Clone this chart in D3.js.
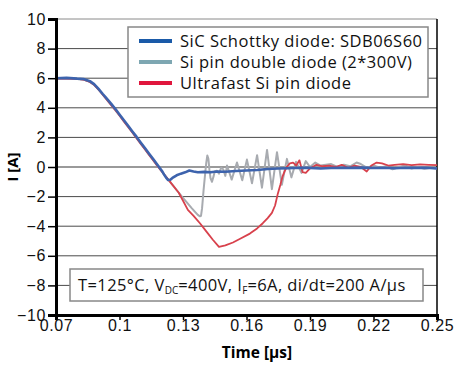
<!DOCTYPE html>
<html><head><meta charset="utf-8">
<script src="https://cdn.jsdelivr.net/npm/d3@7"></script>
<style>
body{margin:0;background:#fff;}
svg{display:block;font-family:"Open Sans",sans-serif;}
</style></head>
<body>
<svg id="c" width="454" height="365"></svg>
<script>
// ---- data ----
const xTicks = [0.07, 0.1, 0.13, 0.16, 0.19, 0.22, 0.25];
const xTickLabels = ["0.07", "0.1", "0.13", "0.16", "0.19", "0.22", "0.25"];
const yTicks = [-10, -8, -6, -4, -2, 0, 2, 4, 6, 8, 10];
const seriesNames = ["SiC Schottky diode: SDB06S60", "Si pin double diode (2*300V)", "Ultrafast Si pin diode"];

const sicT = [0.070,0.075,0.080,0.083,0.086,0.088,0.090,0.092,0.094,0.096,0.098,0.100,0.102,0.104,0.106,0.108,0.110,0.112,0.114,0.116,0.118,0.120,0.121,0.122,0.123,0.124,0.125,0.127,0.129,0.131,0.133,0.135,0.137,0.140,0.143,0.146,0.150,0.155,0.160,0.165,0.170,0.175,0.180,0.185,0.190,0.195,0.200,0.205,0.210,0.215,0.220,0.225,0.230,0.235,0.240,0.245,0.250];
const sicI = [6.0,6.02,5.97,5.95,5.8,5.6,5.3,4.95,4.62,4.28,3.93,3.55,3.18,2.8,2.42,2.05,1.66,1.28,0.9,0.52,0.14,-0.25,-0.5,-0.72,-0.88,-0.86,-0.74,-0.56,-0.45,-0.36,-0.24,-0.3,-0.35,-0.33,-0.36,-0.3,-0.32,-0.27,-0.24,-0.2,-0.14,-0.1,-0.08,-0.05,-0.06,-0.1,-0.07,-0.05,-0.06,-0.04,-0.07,-0.05,-0.08,-0.05,-0.06,-0.05,-0.1];

const pinT = [0.070,0.075,0.080,0.083,0.086,0.088,0.090,0.092,0.094,0.096,0.098,0.100,0.102,0.104,0.106,0.108,0.110,0.112,0.114,0.116,0.118,0.120,0.122,0.124,0.126,0.128,0.130,0.132,0.134,0.136,0.137,0.138,0.1385,0.139,0.1397,0.1405,0.141,0.1415,0.142,0.1425,0.143,0.1437,0.1445,0.145,0.146,0.147,0.148,0.149,0.150,0.1508,0.153,0.1555,0.158,0.1602,0.1626,0.1650,0.1673,0.1697,0.172,0.1744,0.1767,0.1791,0.1812,0.1834,0.186,0.188,0.190,0.1925,0.195,0.1975,0.200,0.203,0.206,0.209,0.212,0.214,0.217,0.220,0.223,0.226,0.229,0.232,0.235,0.238,0.241,0.244,0.247,0.250];
const pinI = [5.98,5.98,5.95,5.9,5.75,5.55,5.25,4.9,4.55,4.2,3.85,3.48,3.1,2.72,2.35,1.96,1.58,1.2,0.82,0.44,0.06,-0.3,-0.66,-1.02,-1.38,-1.74,-2.08,-2.42,-2.76,-3.08,-3.24,-3.33,-3.3,-2.8,-1.6,-0.4,0.3,0.78,0.55,-0.2,-0.75,-1.0,-0.6,-0.3,-0.25,-0.45,-0.05,-0.15,-0.6,0.1,-0.85,0.3,-0.9,0.5,-1.1,0.8,-1.4,1.15,-1.5,1.0,-1.2,0.55,-0.7,0.35,-0.4,0.4,0.0,0.3,0.1,0.15,0.2,0.0,0.15,0.05,0.3,0.2,-0.05,0.1,-0.05,0.05,-0.15,0.0,0.1,-0.1,0.0,-0.12,-0.05,-0.1];

const ufT = [0.070,0.075,0.080,0.083,0.086,0.088,0.090,0.092,0.094,0.096,0.098,0.100,0.102,0.104,0.106,0.108,0.110,0.112,0.114,0.116,0.118,0.120,0.124,0.128,0.1323,0.135,0.138,0.141,0.144,0.147,0.150,0.1536,0.157,0.1616,0.165,0.1677,0.170,0.172,0.1735,0.1748,0.176,0.177,0.178,0.179,0.1805,0.182,0.1835,0.185,0.1865,0.188,0.190,0.193,0.196,0.199,0.202,0.205,0.208,0.211,0.214,0.2168,0.219,0.2215,0.224,0.227,0.230,0.234,0.238,0.242,0.246,0.250];
const ufI = [5.98,5.98,5.95,5.9,5.75,5.55,5.25,4.9,4.55,4.2,3.85,3.48,3.1,2.72,2.35,1.96,1.58,1.2,0.82,0.44,0.06,-0.3,-1.02,-1.74,-2.9,-3.3,-3.8,-4.35,-4.9,-5.4,-5.3,-5.1,-4.85,-4.5,-4.15,-3.8,-3.45,-3.1,-2.6,-1.8,-1.2,-0.65,-0.3,0.0,0.25,0.3,0.1,0.45,-0.35,-0.4,-0.1,0.15,0.05,0.1,0.0,0.15,-0.05,0.1,0.0,-0.3,0.1,0.3,0.25,0.1,0.15,0.2,0.12,0.18,0.15,0.12];

// ---- layout ----
const svg = d3.select("#c");
const L = 56, R = 437, T = 19, B = 315;
const x = d3.scaleLinear().domain([0.07, 0.25]).range([L, R]);
const y = d3.scaleLinear().domain([-10, 10]).range([B, T]);

// gridlines
svg.append("g").selectAll("line").data(yTicks.filter(v => v !== -10)).join("line")
  .attr("x1", L).attr("x2", R).attr("y1", d => y(d)).attr("y2", d => y(d))
  .attr("stroke", d => d === 0 ? "#9a9a9a" : (d === 10 ? "#8a8a8a" : "#4a4a4a"))
  .attr("stroke-width", d => d === 0 ? 2 : 1);

// right border
svg.append("line").attr("x1", R).attr("x2", R).attr("y1", T).attr("y2", B)
  .attr("stroke", "#000").attr("stroke-width", 1.5);

// series
const line = d3.line().x(d => x(d[0])).y(d => y(d[1]));
const series = [
  {t: pinT, v: pinI, color: "#a8abb0", w: 2},
  {t: ufT, v: ufI, color: "#d8414c", w: 1.8},
  {t: sicT, v: sicI, color: "#3d63ad", w: 2.6}
];
series.forEach(s => {
  svg.append("path").datum(s.t.map((t, i) => [t, s.v[i]]))
    .attr("d", line).attr("fill", "none").attr("stroke", s.color)
    .attr("stroke-width", s.w).attr("stroke-linejoin", "round");
});

// axes
const yAxis = d3.axisLeft(y).tickValues(yTicks).tickSize(8).tickPadding(2).tickFormat(d3.format("d"));
const gy = svg.append("g").attr("transform", `translate(${L},0)`).call(yAxis);
gy.select(".domain").attr("stroke-width", 3);
gy.selectAll(".tick line").attr("stroke-width", 1.5);
gy.selectAll("text").attr("font-size", 16).attr("letter-spacing", 0.6).attr("fill", "#111");

const xAxis = d3.axisBottom(x).tickValues(xTicks).tickSize(5).tickPadding(0)
  .tickFormat((d, i) => xTickLabels[i]);
const gx = svg.append("g").attr("transform", `translate(0,${B})`).call(xAxis);
gx.select(".domain").attr("stroke-width", 3);
gx.selectAll(".tick line").attr("stroke-width", 1.5);
gx.selectAll("text").attr("font-size", 16).attr("letter-spacing", 0.6).attr("fill", "#111");

// axis titles
svg.append("text").attr("transform", "translate(18,167) rotate(-90)")
  .attr("text-anchor", "middle").attr("font-size", 15).attr("font-weight", "bold").text("I [A]");
svg.append("text").attr("x", 257).attr("y", 358)
  .attr("text-anchor", "middle").attr("font-size", 15.5).attr("font-weight", "bold").text("Time [µs]");

// legend
const lg = svg.append("g");
lg.append("rect").attr("x", 128).attr("y", 27).attr("width", 300).attr("height", 70)
  .attr("fill", "#fff").attr("stroke", "#888").attr("stroke-width", 1.5);
const legColors = ["#1a5aa8", "#7ea7b2", "#e0163d"];
seriesNames.forEach((n, i) => {
  const yy = 41 + i * 21;
  lg.append("line").attr("x1", 139).attr("x2", 172).attr("y1", yy).attr("y2", yy)
    .attr("stroke", legColors[i]).attr("stroke-width", 4);
  lg.append("text").attr("x", 180).attr("y", yy + 6).attr("font-size", 16.5)
    .attr("letter-spacing", 0.5).attr("fill", "#111").text(n);
});

// annotation
const an = svg.append("g");
an.append("rect").attr("x", 70).attr("y", 269).attr("width", 353).attr("height", 32)
  .attr("fill", "#fff").attr("stroke", "#888").attr("stroke-width", 1.5);
const at = an.append("text").attr("x", 78).attr("y", 291).attr("font-size", 16.5)
  .attr("letter-spacing", 0.4).attr("fill", "#111");
at.append("tspan").text("T=125°C, V");
at.append("tspan").attr("font-size", 10).attr("letter-spacing", 0).attr("dy", 3).text("DC");
at.append("tspan").attr("dy", -3).text("=400V, I");
at.append("tspan").attr("font-size", 10).attr("letter-spacing", 0).attr("dy", 3).text("F");
at.append("tspan").attr("dy", -3).text("=6A, di/dt=200 A/µs");
</script>
</body></html>
